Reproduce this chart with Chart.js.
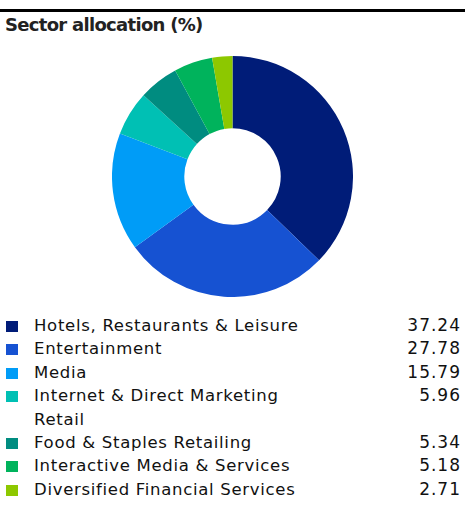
<!DOCTYPE html>
<html>
<head>
<meta charset="utf-8">
<script src="https://cdn.jsdelivr.net/npm/chart.js@4.4.1/dist/chart.umd.min.js"></script>
<style>
html,body{margin:0;padding:0;background:#fff;width:465px;height:509px;overflow:hidden;}
#rule{position:absolute;left:0;top:9px;width:465px;height:3px;background:#000;}
#title{position:absolute;left:5px;top:14px;font-family:"DejaVu Sans",sans-serif;font-weight:bold;font-size:18px;color:#222;letter-spacing:-0.7px;}
#wrap{position:absolute;left:112px;top:56px;width:241px;height:241px;}
#legend{position:absolute;left:0;top:314px;width:465px;font-family:"DejaVu Sans",sans-serif;font-size:16.5px;color:#111;}
.row{position:relative;height:23.4px;line-height:23.4px;}
.sw{position:absolute;left:6px;top:7px;width:12px;height:11px;}
.lab{position:absolute;left:34px;top:0;white-space:nowrap;letter-spacing:0.7px;}
.val{position:absolute;right:4px;top:0;letter-spacing:1px;font-size:17px;}
</style>
</head>
<body>
<div id="rule"></div>
<div id="title">Sector allocation (%)</div>
<div id="wrap"><canvas id="c"></canvas></div>
<div id="legend"></div>
<script>
const categories = ["Hotels, Restaurants & Leisure","Entertainment","Media","Internet & Direct Marketing\nRetail","Food & Staples Retailing","Interactive Media & Services","Diversified Financial Services"];
const values = [37.24,27.78,15.79,5.96,5.34,5.18,2.71];
const colors = ["#001c78","#1652d2","#009cf7","#00c0b4","#008c80","#00b35c","#8dc800"];

new Chart(document.getElementById('c'), {
  type: 'doughnut',
  data: { labels: categories, datasets: [{ data: values, backgroundColor: colors, borderWidth: 0 }] },
  options: {
    responsive: true, maintainAspectRatio: false, animation: false,
    cutout: '40%',
    layout: { padding: 0 },
    plugins: { legend: { display: false }, tooltip: { enabled: false } }
  }
});

const leg = document.getElementById('legend');
categories.forEach((c, i) => {
  const lines = c.split("\n");
  const row = document.createElement('div');
  row.className = 'row';
  row.style.height = (23.4 * lines.length) + 'px';
  const sw = document.createElement('div'); sw.className = 'sw'; sw.style.background = colors[i];
  const lab = document.createElement('div'); lab.className = 'lab'; lab.innerHTML = lines.map(l => l.replace(/&/g,'&amp;')).join('<br>');
  const val = document.createElement('div'); val.className = 'val'; val.textContent = values[i].toFixed(2);
  row.appendChild(sw); row.appendChild(lab); row.appendChild(val);
  leg.appendChild(row);
});
</script>
</body>
</html>
